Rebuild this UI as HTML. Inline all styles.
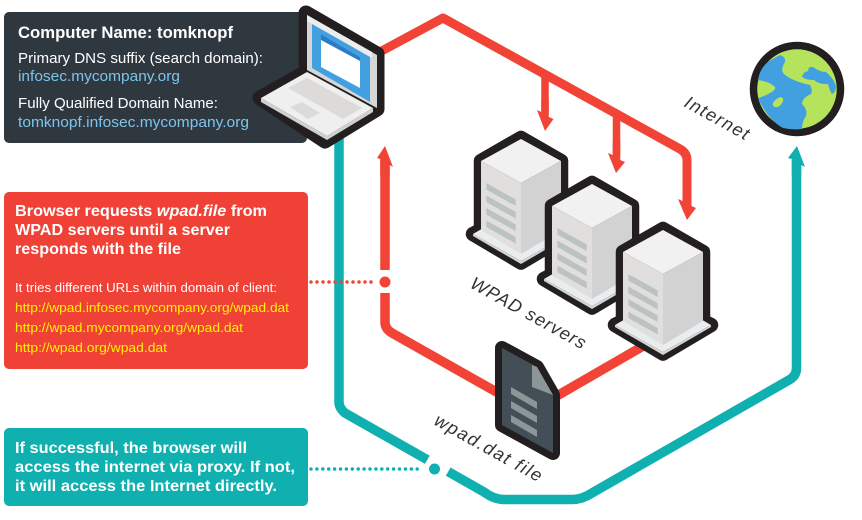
<!DOCTYPE html>
<html><head><meta charset="utf-8"><style>
html,body{margin:0;padding:0;background:#fff}
svg{display:block}
text{font-family:"Liberation Sans",sans-serif}
</style></head><body>
<svg width="862" height="520" viewBox="0 0 862 520" xmlns="http://www.w3.org/2000/svg">
<defs>
<g id="srv">
<path d="M0 7L40 30V99L48 103L0 131.500L-48 103L-40 99V30Z" fill="#231f20" stroke="#231f20" stroke-width="14.500" stroke-linejoin="round"/>
<path d="M-48 103L0 75L48 103L0 130Z" fill="#e9edf0"/>
<path d="M-48 103L0 130L48 103V105L0 133L-48 105Z" fill="#d4d4d2"/>
<path d="M0 8L40 30L0 52L-40 30Z" fill="#f1f1f1"/>
<path d="M-40 30L0 52V123L-40 99Z" fill="#e0dfdd"/>
<path d="M40 30L0 52V123L40 99Z" fill="#d2d2d2"/>
<g fill="#bcc2c2">
<path d="M-34.700 52L-5.300 68.500V75L-34.700 58.500Z"/>
<path d="M-34.700 64.500L-5.300 81V87.500L-34.700 71Z"/>
<path d="M-34.700 77L-5.300 93.500V100L-34.700 83.500Z"/>
<path d="M-34.700 89.500L-5.300 106V112.500L-34.700 96Z"/>
</g>
</g>
</defs>

<!-- left boxes -->
<rect x="4" y="12" width="303" height="131" rx="5" fill="#30383f"/>
<rect x="4" y="192" width="304" height="177" rx="5" fill="#ef4136"/>
<rect x="4" y="428" width="304" height="78" rx="5" fill="#10b0b0"/>

<!-- connectors -->
<g fill="none" stroke-linejoin="round">
<path d="M376 54L443 18L680 149Q687 153 687 160V200" stroke="#f14336" stroke-width="9"/>
<path d="M545 72V115M616.500 113V156" stroke="#f14336" stroke-width="7.500"/>
<path d="M385 160V322Q385 329 392 333L500 394" stroke="#f14336" stroke-width="9.500"/>
<path d="M555 397L645 345" stroke="#f14336" stroke-width="9.500"/>
<path d="M339 135V402Q339 408 345 413L484 492Q494 499.500 504 499.500H572Q582 499.500 592 493L789 380Q796.500 376 796.500 368V160" stroke="#10b0b0" stroke-width="9.500"/>
<path d="M311 282H374" stroke="#f14336" stroke-width="3.500" stroke-dasharray="0 6" stroke-linecap="round"/>
<path d="M311 469H422" stroke="#10b0b0" stroke-width="3.500" stroke-dasharray="0 5.900" stroke-linecap="round"/>
</g>
<rect x="378" y="270" width="14" height="23" fill="#fff"/>
<rect x="-12" y="-7" width="24" height="14" fill="#fff" transform="translate(437 467) rotate(30)"/>
<circle cx="385" cy="282" r="5.500" fill="#f14336"/>
<circle cx="434.500" cy="469" r="5.500" fill="#10b0b0"/>
<path d="M545 131L553.500 119L548.750 117V100H541.250V112L537 110Z" fill="#f14336"/>
<path d="M616 173L625 162L620.250 160V140H612.750V155L608 153Z" fill="#f14336"/>
<path d="M687 220L696 208L691.500 206V190H682.500V201L678 199Z" fill="#f14336"/>
<path d="M385 146L377 158L380.250 159V175H389.750V165L393 167Z" fill="#f14336"/>
<path d="M797 146L788 158L791.750 159V175H801.250V165L805 167Z" fill="#10b0b0"/>

<!-- servers -->
<use href="#srv" x="521" y="131"/>
<use href="#srv" x="592" y="176"/>
<use href="#srv" x="663" y="222"/>

<!-- laptop -->
<path d="M306 13L377 54V109L325 141L260 98L306 72Z" fill="#231f20" stroke="#231f20" stroke-width="15" stroke-linejoin="round"/>
<path d="M307 15L377 55V108L307 70Z" fill="#d6d6d6"/>
<path d="M307 15L372 52V58L307 21Z" fill="#ececec"/>
<path d="M312 24L370 57V102L312 68Z" fill="#42a0e0"/>
<path d="M321 34L360 57V88L321 67Z" fill="#fff"/>
<path d="M321 34L360 57V61L321 40Z" fill="#2a7cc6"/>
<path d="M261 98L307 72L373 108L327 136Z" fill="#efefef"/>
<path d="M261 98L327 136L373 108V112L327 140L261 102Z" fill="#d0d0d0"/>
<path d="M288 88L307 78L362 108L343 119Z" fill="#dcdbd9"/>
<path d="M290 107L302 102L320 113L308 119Z" fill="#dcdbd9"/>

<!-- document -->
<path d="M502 348L537 367L553 395V453L502 425Z" fill="#231f20" stroke="#231f20" stroke-width="14" stroke-linejoin="round"/>
<path d="M502 348L537 367L553 395V453L502 425Z" fill="#444e57"/>
<path d="M532 365L537 367L553 395L532 387Z" fill="#8c9698"/>
<g fill="#8c9698">
<path d="M511 387L537 402V409L511 394Z"/>
<path d="M511 401L537 416V423L511 408Z"/>
<path d="M511 415L537 430V437L511 422Z"/>
</g>

<!-- globe -->
<circle cx="797" cy="89" r="43.500" fill="#b5e45c" stroke="#231f20" stroke-width="7.500"/>
<path d="M780 55Q786 57 785 62Q780 70 784 74Q792 81 810 85Q813 90 811 94Q802 98 802 104Q808 110 806 116Q802 122 802 129Q792 130 783 128Q768 120 758 98Q765 96 770 93Q776 90 775 87Q770 82 758 80Q760 68 768 62Q774 58 780 55Z" fill="#42a0e0"/>
<path d="M802 77Q803 72 808 71Q808 66 813 67Q820 72 826 72Q835 80 836 87Q836 92 832 94Q830 92 828 84Q820 85 814 80Q806 80 802 77Z" fill="#42a0e0"/>
<path d="M773 103Q776 98 781 97Q785 99 782 103Q779 108 775 107Q772 106 773 103Z" fill="#b5e45c"/>

<!-- box text -->
<text x="18" y="38" font-size="16.500" font-weight="bold" fill="#fff" textLength="215" lengthAdjust="spacingAndGlyphs">Computer Name: tomknopf</text>
<text x="18" y="63" font-size="15" fill="#fff" textLength="245" lengthAdjust="spacingAndGlyphs">Primary DNS suffix (search domain):</text>
<text x="18" y="81" font-size="15" fill="#7cc4ee" textLength="162" lengthAdjust="spacingAndGlyphs">infosec.mycompany.org</text>
<text x="18" y="108" font-size="15" fill="#fff" textLength="200" lengthAdjust="spacingAndGlyphs">Fully Qualified Domain Name:</text>
<text x="18" y="127" font-size="15" fill="#7cc4ee" textLength="231" lengthAdjust="spacingAndGlyphs">tomknopf.infosec.mycompany.org</text>

<g font-size="16" font-weight="bold" fill="#fff">
<text x="15" y="216" textLength="252" lengthAdjust="spacingAndGlyphs">Browser requests <tspan font-style="italic">wpad.file</tspan> from</text>
<text x="15" y="235" textLength="215" lengthAdjust="spacingAndGlyphs">WPAD servers until a server</text>
<text x="15" y="254" textLength="166" lengthAdjust="spacingAndGlyphs">responds with the file</text>
</g>
<text x="15" y="292" font-size="13" fill="#fff" textLength="262" lengthAdjust="spacingAndGlyphs">It tries different URLs within domain of client:</text>
<g font-size="13" fill="#fff200">
<text x="15" y="312" textLength="274" lengthAdjust="spacingAndGlyphs">http://wpad.infosec.mycompany.org/wpad.dat</text>
<text x="15" y="332" textLength="228" lengthAdjust="spacingAndGlyphs">http://wpad.mycompany.org/wpad.dat</text>
<text x="15" y="352" textLength="152" lengthAdjust="spacingAndGlyphs">http://wpad.org/wpad.dat</text>
</g>
<g font-size="16" font-weight="bold" fill="#fff">
<text x="15" y="453" textLength="232" lengthAdjust="spacingAndGlyphs">If successful, the browser will</text>
<text x="15" y="472" textLength="280" lengthAdjust="spacingAndGlyphs">access the internet via proxy. If not,</text>
<text x="15" y="491" textLength="262" lengthAdjust="spacingAndGlyphs">it will access the Internet directly.</text>
</g>

<!-- rotated labels -->
<g font-size="18" font-style="italic" fill="#333">
<text transform="translate(683 106) rotate(29)" textLength="71">Internet</text>
<text transform="translate(469 287) rotate(29)" textLength="129">WPAD servers</text>
<text transform="translate(433 424) rotate(29)" textLength="120">wpad.dat file</text>
</g>
</svg>
</body></html>
